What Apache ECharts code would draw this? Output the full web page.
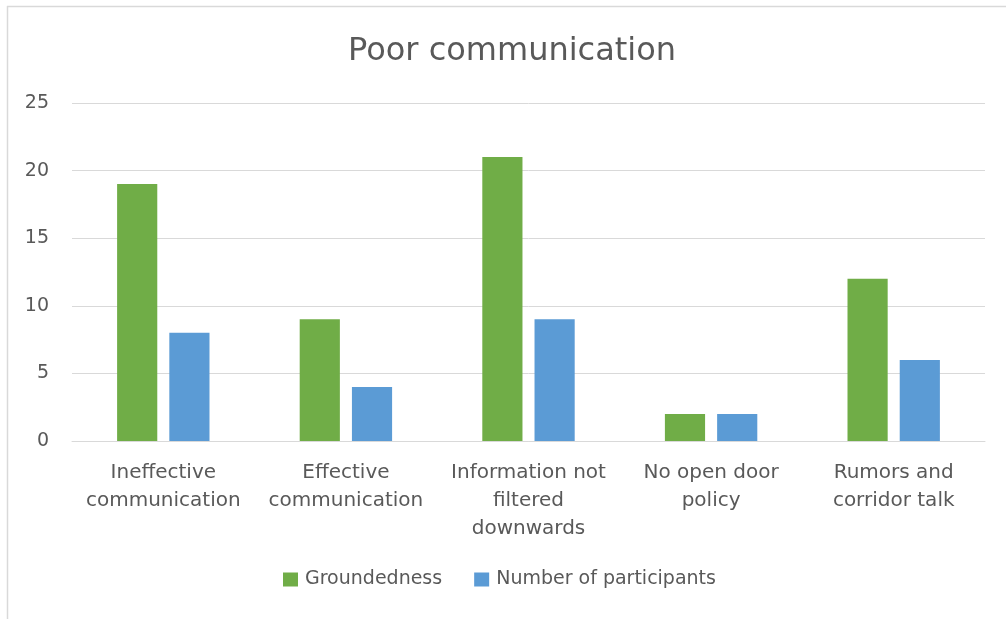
<!DOCTYPE html>
<html>
<head>
<meta charset="utf-8">
<script src="https://cdn.jsdelivr.net/npm/echarts@6/dist/echarts.min.js"></script>
<style>
  html, body { margin: 0; padding: 0; background: #fff; }
  #chart { width: 1006px; height: 619px; }
</style>
</head>
<body>
<div id="chart"></div>
<script>
// Poor communication: coded themes with groundedness and participant counts
const categories = [
  'Ineffective\ncommunication',
  'Effective\ncommunication',
  'Information not\nfiltered\ndownwards',
  'No open door\npolicy',
  'Rumors and\ncorridor talk'
];
const groundedness = [19, 9, 21, 2, 12];
const participants = [8, 4, 9, 2, 6];
const yTicks = [0, 5, 10, 15, 20, 25];

const fontFamily = '"DejaVu Sans", "Open Sans", sans-serif';
const textColor = '#595959';

const chart = echarts.init(document.getElementById('chart'), null, { renderer: 'canvas' });
chart.setOption({
  animation: false,
  backgroundColor: '#fff',
  title: {
    text: 'Poor communication',
    left: 343,
    top: 31,
    textStyle: { fontFamily, fontSize: 32, fontWeight: 'normal', color: textColor }
  },
  legend: {
    bottom: 25,
    left: 278,
    itemWidth: 15,
    itemHeight: 14,
    itemGap: 32,
    icon: 'rect',
    textStyle: { fontFamily, fontSize: 19, color: textColor, padding: [0, 0, 0, 2] }
  },
  grid: { left: 72, right: 21, top: 103, bottom: 178 },
  xAxis: {
    type: 'category',
    data: categories,
    axisTick: { show: false },
    axisLine: { lineStyle: { color: '#d9d9d9', width: 1 } },
    axisLabel: { fontFamily, fontSize: 20, color: textColor, lineHeight: 28, margin: 18, interval: 0 }
  },
  yAxis: {
    type: 'value',
    min: yTicks[0],
    max: yTicks[yTicks.length - 1],
    interval: yTicks[1] - yTicks[0],
    axisLine: { show: false },
    axisTick: { show: false },
    splitLine: { lineStyle: { color: '#d9d9d9', width: 1 } },
    axisLabel: { fontFamily, fontSize: 19, color: textColor, margin: 23 }
  },
  series: [
    {
      name: 'Groundedness',
      type: 'bar',
      data: groundedness,
      barWidth: '22%',
      barGap: '30%',
      itemStyle: { color: '#70AD47' }
    },
    {
      name: 'Number of participants',
      type: 'bar',
      data: participants,
      barWidth: '22%',
      barGap: '30%',
      itemStyle: { color: '#5B9BD5' }
    }
  ],
  graphic: [
    // chart frame: top and left edges
    { type: 'line', shape: { x1: 7, y1: 6.5, x2: 1006, y2: 6.5 }, style: { stroke: '#d9d9d9', lineWidth: 1.5 } },
    { type: 'line', shape: { x1: 7.5, y1: 6, x2: 7.5, y2: 619 }, style: { stroke: '#d9d9d9', lineWidth: 1.5 } }
  ]
});
</script>
</body>
</html>
